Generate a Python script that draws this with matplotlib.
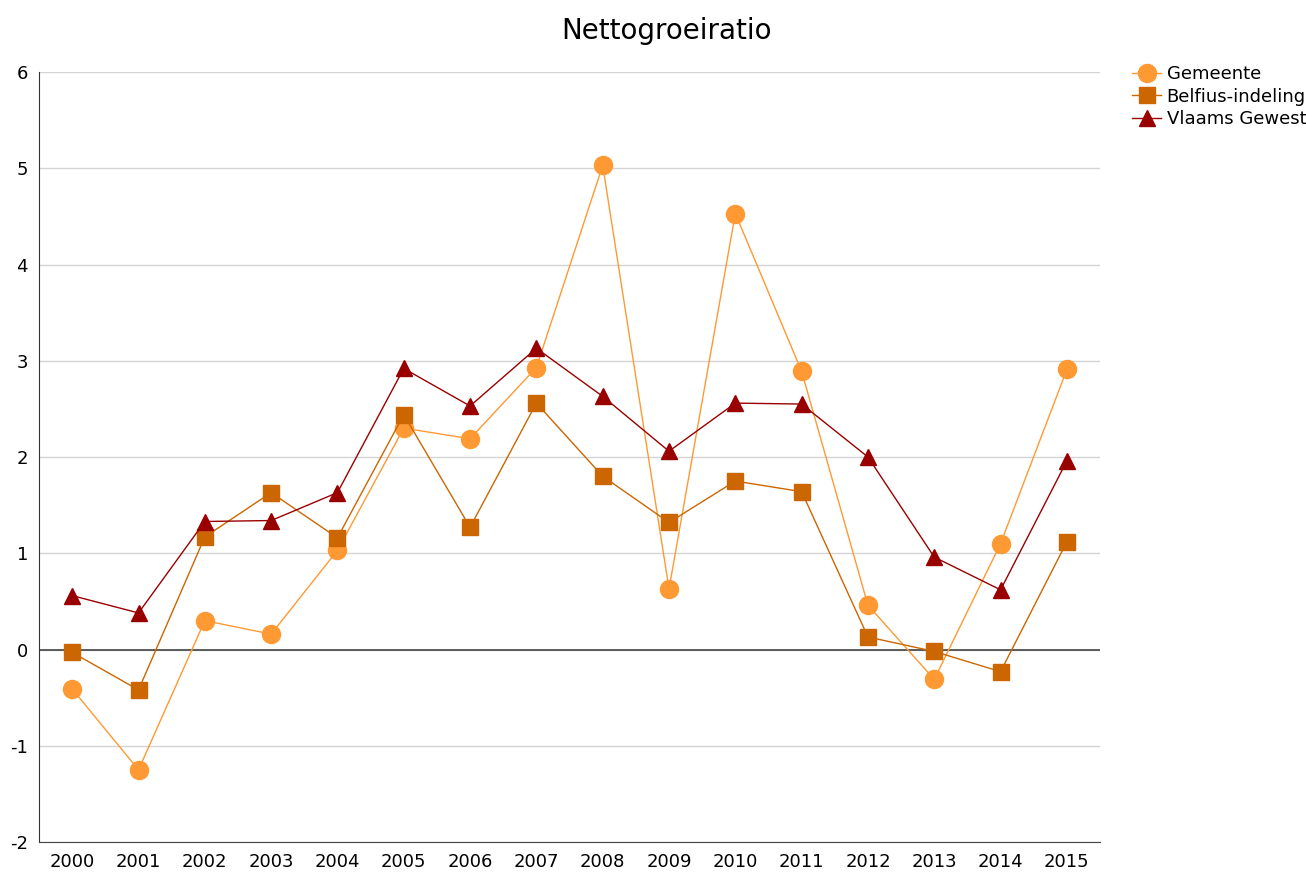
import numpy as np
import matplotlib.pyplot as plt

years = [str(y) for y in range(2000, 2016)]
gemeente = [-0.41, -1.25, 0.30, 0.16, 1.03, 2.30, 2.19, 2.93, 5.03, 0.63, 4.53, 2.89, 0.46, -0.31, 1.10, 2.91]
belfius = [-0.03, -0.42, 1.17, 1.63, 1.16, 2.44, 1.27, 2.56, 1.80, 1.32, 1.75, 1.64, 0.13, -0.02, -0.23, 1.12]
vlaams = [0.56, 0.38, 1.33, 1.34, 1.63, 2.92, 2.53, 3.13, 2.63, 2.06, 2.56, 2.55, 2.00, 0.96, 0.62, 1.96]

plt.rcParams['font.family'] = ['DejaVu Sans']
plt.rcParams['axes.unicode_minus'] = False

fig = plt.figure(figsize=(13.06, 8.75), dpi=100)
ax = fig.add_axes([0.0299, 0.0377, 0.8124, 0.88])

x = np.arange(len(years))
ax.plot(x, gemeente, color="#FF9933", lw=1, marker='o', markersize=13, label="Gemeente", zorder=3)
ax.plot(x, belfius, color="#CC6600", lw=1, marker='s', markersize=11.5, label="Belfius-indeling", zorder=4)
ax.plot(x, vlaams, color="#990000", lw=1, marker='^', markersize=12, label="Vlaams Gewest", zorder=5)

ax.set_xlim(-0.5, len(years) - 0.5)
ax.set_ylim(-2, 6)
ax.set_xticks(x)
ax.set_xticklabels(years)
ax.set_yticks(range(-2, 7))
ax.tick_params(length=0, labelsize=13, pad=8)
ax.yaxis.grid(True, color="#d4d4d4", lw=1)
ax.set_axisbelow(True)
ax.axhline(0, color="#444444", lw=1.2, zorder=2)

for side in ["top", "right"]:
    ax.spines[side].set_visible(False)
ax.spines["bottom"].set_color("#444444")
ax.spines["left"].set_color("#333333")

fig.text(0.51, 0.965, "Nettogroeiratio", fontsize=20, ha="center", va="center")
ax.legend(loc="upper left", bbox_to_anchor=(1.015, 1.03), frameon=False,
          fontsize=13, handlelength=1.6, handletextpad=0.3, labelspacing=0.25)

fig.savefig("out.png", dpi=100)
